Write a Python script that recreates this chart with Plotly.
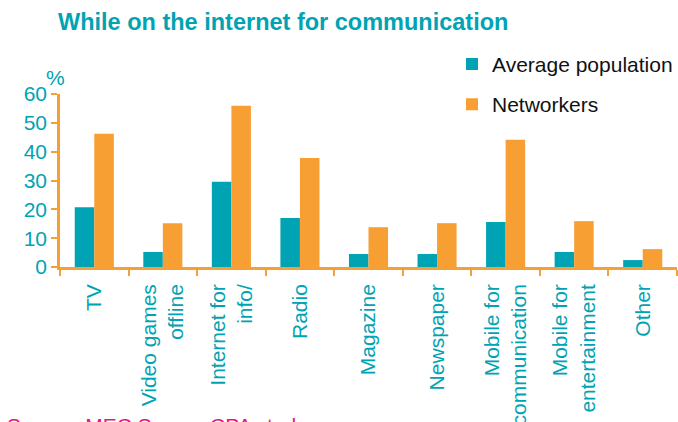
import plotly.graph_objects as go

categories = ["TV", "Video games<br>offline", "Internet for<br>info/", "Radio", "Magazine",
              "Newspaper", "Mobile for<br>communication", "Mobile for<br>entertainment", "Other"]
average_population = [20.7, 5.2, 29.6, 17.0, 4.5, 4.5, 15.6, 5.2, 2.4]
networkers = [46.2, 15.2, 55.9, 37.8, 13.8, 15.2, 44.1, 15.9, 6.2]
y_ticks = [0, 10, 20, 30, 40, 50, 60]

TEAL = "#00A3B3"
ORANGE = "#F79F33"
FONT = "Liberation Sans, Arial, sans-serif"

fig = go.Figure()
fig.add_trace(go.Bar(x=categories, y=average_population, name="Average population",
                     marker=dict(color=TEAL, line=dict(width=0)), legendgroup="a"))
fig.add_trace(go.Bar(x=categories, y=networkers, name="Networkers",
                     marker=dict(color=ORANGE, line=dict(width=0)), legendgroup="b"))

fig.update_layout(
    width=678, height=422,
    margin=dict(l=60, r=0, t=94, b=155),
    plot_bgcolor="white", paper_bgcolor="white",
    font=dict(family=FONT, size=21, color=TEAL),
    barmode="group", bargap=0.43, bargroupgap=0,
    title=dict(text="<b>While on the internet for communication</b>",
               x=58 / 678, xanchor="left", xref="container",
               y=1 - 22 / 422, yanchor="middle", yref="container",
               font=dict(family=FONT, size=23.5, color=TEAL)),
    legend=dict(x=0.635, xanchor="left", y=1.29, yanchor="top",
                font=dict(family=FONT, size=21, color="#111111"),
                tracegroupgap=10, bgcolor="rgba(0,0,0,0)"),
    showlegend=True,
)
fig.update_xaxes(
    showline=True, linecolor=ORANGE, linewidth=2.5,
    ticks="outside", tickson="boundaries", ticklen=6, tickwidth=2, tickcolor=ORANGE,
    tickangle=-90, tickfont=dict(family=FONT, size=21, color=TEAL),
    ticklabelstandoff=6, automargin=False,
    showgrid=False, zeroline=False,
)
fig.update_yaxes(
    range=[0, 60], tickvals=y_ticks,
    showline=True, linecolor=ORANGE, linewidth=2.5,
    ticks="outside", ticklen=6, tickwidth=2, tickcolor=ORANGE,
    tickfont=dict(family=FONT, size=21, color=TEAL),
    automargin=False,
    showgrid=False, zeroline=False,
)
fig.add_annotation(text="%", xref="paper", yref="paper", x=-0.0065, y=1.095,
                   xanchor="center", yanchor="middle", showarrow=False,
                   font=dict(family=FONT, size=21, color=TEAL))
fig.add_annotation(text="Source: MEC Sensor CPA study", xref="paper", yref="paper",
                   x=-0.089, y=-0.838, xanchor="left", yanchor="top", showarrow=False,
                   font=dict(family=FONT, size=21, color="#E8138A"))

fig.write_html("out.html")
